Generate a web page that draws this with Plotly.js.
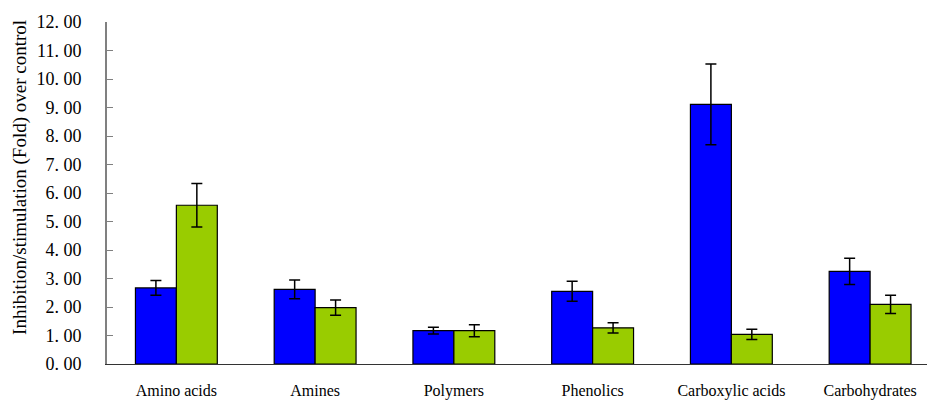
<!DOCTYPE html>
<html>
<head>
<meta charset="utf-8">
<script src="https://cdn.plot.ly/plotly-3.0.1.min.js"></script>
<style>html,body{margin:0;padding:0;background:#fff;}#chart{width:927px;height:401px;}</style>
</head>
<body>
<div id="chart"></div>
<script>
const categories = ["Amino acids", "Amines", "Polymers", "Phenolics", "Carboxylic acids", "Carbohydrates"];
const seriesA = [2.67, 2.62, 1.17, 2.55, 9.11, 3.25];
const errorsA = [0.26, 0.33, 0.12, 0.35, 1.42, 0.46];
const seriesB = [5.57, 1.98, 1.17, 1.27, 1.04, 2.09];
const errorsB = [0.76, 0.27, 0.21, 0.18, 0.18, 0.32];
const yTickVals = [0,1,2,3,4,5,6,7,8,9,10,11,12];
const yTickText = ["0. 00","1. 00","2. 00","3. 00","4. 00","5. 00","6. 00","7. 00","8. 00","9. 00","10. 00","11. 00","12. 00"];

const serif = "Liberation Serif";

const traces = [
  {
    type: "bar", x: categories, y: seriesA,
    marker: {color: "#0000FF", line: {color: "#000000", width: 1.2}},
    error_y: {type: "data", array: errorsA, visible: true, color: "#000000", thickness: 1.5, width: 5.5},
    hoverinfo: "skip"
  },
  {
    type: "bar", x: categories, y: seriesB,
    marker: {color: "#99CC00", line: {color: "#000000", width: 1.2}},
    error_y: {type: "data", array: errorsB, visible: true, color: "#000000", thickness: 1.5, width: 5.5},
    hoverinfo: "skip"
  }
];

const layout = {
  width: 927, height: 401,
  margin: {l: 107, r: 0, t: 22, b: 37, pad: 0},
  paper_bgcolor: "#ffffff", plot_bgcolor: "#ffffff",
  showlegend: false,
  barmode: "group", bargap: 0.41, bargroupgap: 0,
  font: {family: serif, color: "#000000", size: 16},
  xaxis: {
    type: "category",
    range: [-0.5, 5.41],
    showline: true, linecolor: "#333333", linewidth: 1.2,
    showgrid: false, zeroline: false, ticks: "",
    tickfont: {family: serif, size: 16, color: "#000000"},
    ticklabelstandoff: 12
  },
  yaxis: {
    range: [0, 12],
    tickvals: yTickVals, ticktext: yTickText,
    showline: true, linecolor: "#808080", linewidth: 2,
    showgrid: false, zeroline: false,
    ticks: "inside", ticklen: 6, tickcolor: "#808080", tickwidth: 1,
    tickfont: {family: serif, size: 18, color: "#000000"},
    ticklabelstandoff: 20
  },
  annotations: [{
    text: "Inhibition/stimulation (Fold) over control",
    textangle: -90,
    xref: "paper", yref: "paper", x: 0, y: 0.544,
    xanchor: "center", yanchor: "middle", xshift: -87,
    showarrow: false,
    font: {family: serif, size: 19, color: "#000000"}
  }]
};

Plotly.newPlot("chart", traces, layout, {displayModeBar: false, staticPlot: true});
</script>
</body>
</html>
